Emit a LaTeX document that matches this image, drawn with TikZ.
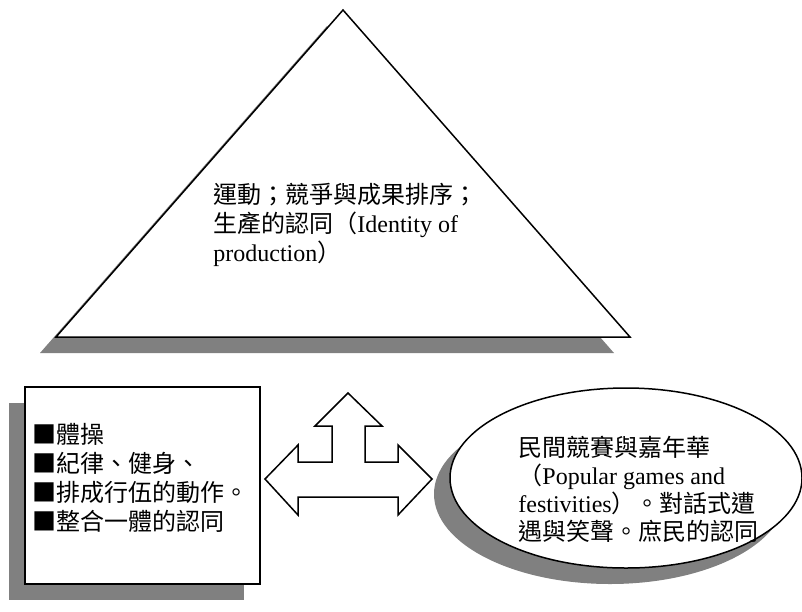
\documentclass[tikz,border=0pt]{standalone}
\usepackage{fontspec}
\setmainfont{Liberation Serif}
\newfontfamily\cjk{Noto Sans CJK TC}
\definecolor{shadowgray}{RGB}{128,128,128}
\tikzset{
    shadowfill/.style={fill=shadowgray,draw=none},
    outline/.style={draw=black,fill=white,line width=0.75pt,line join=miter},
    txt/.style={align=left,anchor=north west,inner sep=0pt,font=\fontsize{12}{14.5}\selectfont}
}

\begin{document}
\begin{tikzpicture}[x=0.5pt,y=-0.5pt]
    \useasboundingbox(0,0)rectangle(802,611);

    \coordinate (apex) at(343,10);
    \coordinate (bl) at(56,337);
    \coordinate (br) at(630,337);
    \fill[shadowfill]([shift={(-16,16)}]apex)--([shift={(-16,16)}]bl)--([shift={(-16,16)}]br)--cycle;
    \draw[outline](apex)--(bl)--(br)--cycle;
    \node[txt](sport) at(213,183){{\cjk 運動；競爭與成果排序；}\\{\cjk 生產的認同（}Identity of\\production{\cjk ）}};

    \fill[shadowfill](9,403)rectangle(244,600);
    \draw[outline](25,387)rectangle(260,584);
    \node[txt,font=\cjk\fontsize{12}{14.5}\selectfont](drill) at(32,423){■體操\\■紀律、健身、\\■排成行伍的動作。\\■整合一體的認同};

    \draw[outline](265,479)--(298,445)--(298,462)--(332,462)--(332,426)--(315,426)--(348,393)--(382,426)--(365,426)--(365,462)--(398,462)--(398,445)--(432,479)--(398,515)--(398,497)--(298,497)--(298,515)--cycle;

    \fill[shadowfill](610,494)ellipse[x radius=88pt,y radius=45pt];
    \draw[outline](626,478)ellipse[x radius=88pt,y radius=45pt];
    \node[txt,font=\fontsize{12}{14}\selectfont](folk) at(518,436){{\cjk 民間競賽與嘉年華}\\{\cjk （}Popular games and\\festivities{\cjk ）。對話式遭}\\{\cjk 遇與笑聲。庶民的認同}};
\end{tikzpicture}
\end{document}
